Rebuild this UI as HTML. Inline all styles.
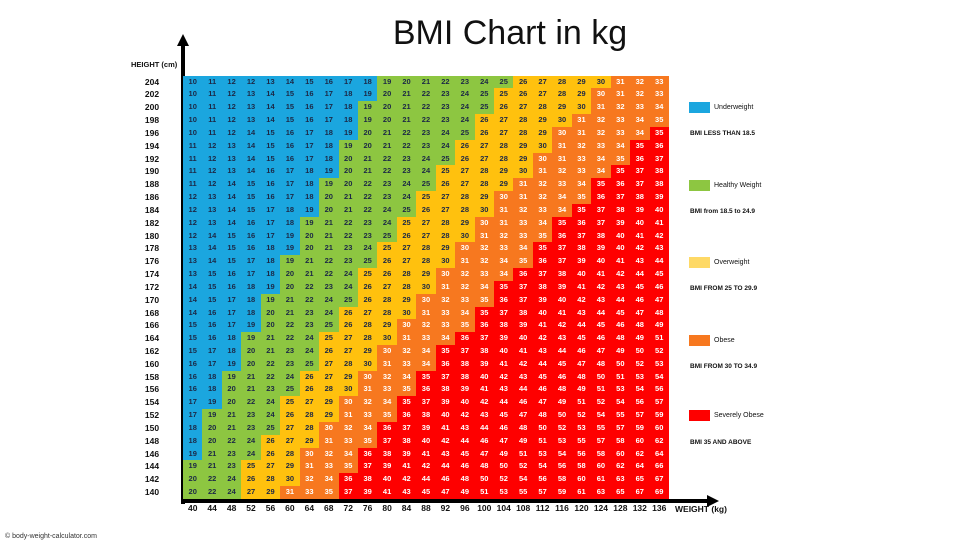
<!DOCTYPE html>
<html><head><meta charset="utf-8"><style>
*{margin:0;padding:0;box-sizing:border-box}
body{width:980px;height:552px;background:#fff;position:relative;overflow:hidden;font-family:"Liberation Sans",sans-serif}
.g{position:absolute;left:183px;top:75.6px;width:486px;display:grid;grid-template-columns:repeat(25,19.44px);grid-auto-rows:12.84px}
.g i{font-style:normal;font-weight:bold;font-size:7.5px;text-align:center;line-height:12.84px}
.b{background:#1ba6df;color:#1c2846}.gr{background:#8dc641;color:#1c2846}.y{background:#ffc10e;color:#1c2846}.o{background:#f7781f;color:#fff}.r{background:#fe0000;color:#fff}
.hl{position:absolute;left:134px;top:75.6px;width:36px;display:grid;grid-auto-rows:12.84px}
.hl span{font-weight:bold;font-size:8.5px;text-align:center;line-height:12.84px;color:#111}
.wl{position:absolute;left:183px;top:503px;width:486px;display:grid;grid-template-columns:repeat(25,19.44px)}
.wl span{font-weight:bold;font-size:8.5px;text-align:center;color:#111}
.t{position:absolute;font-size:7px;color:#111}
.lb{position:absolute;left:689px;width:21px;height:11px}
</style></head><body>
<div style="position:absolute;left:0;width:1020px;top:14px;text-align:center;font-size:34px;color:#111">BMI Chart in kg</div>
<div class="t" style="left:131px;top:60px;font-weight:bold;font-size:7.5px">HEIGHT (cm)</div>
<div style="position:absolute;left:181px;top:44px;width:4px;height:460px;background:#000"></div>
<div style="position:absolute;left:177px;top:34px;width:0;height:0;border-left:6px solid transparent;border-right:6px solid transparent;border-bottom:12px solid #000"></div>
<div style="position:absolute;left:181px;top:499px;width:528px;height:4px;background:#000"></div>
<div style="position:absolute;left:707px;top:495px;width:0;height:0;border-top:6px solid transparent;border-bottom:6px solid transparent;border-left:12px solid #000"></div>
<div class="t" style="left:675px;top:504px;font-weight:bold;font-size:8.5px">WEIGHT (kg)</div>
<div class="t" style="left:5px;top:533px;font-size:7px;color:#333">© body-weight-calculator.com</div>

<div class="lb b" style="top:102px"></div><div class="t" style="left:714px;top:104px">Underweight</div>
<div class="t" style="left:690px;top:130px;font-weight:bold;font-size:6.5px">BMI LESS THAN 18.5</div>
<div class="lb gr" style="top:180px"></div><div class="t" style="left:714px;top:182px">Healthy Weight</div>
<div class="t" style="left:690px;top:208px;font-weight:bold;font-size:6.5px">BMI from 18.5 to 24.9</div>
<div class="lb" style="top:257px;background:#fed966"></div><div class="t" style="left:714px;top:259px">Overweight</div>
<div class="t" style="left:690px;top:285px;font-weight:bold;font-size:6.5px">BMI FROM 25 TO 29.9</div>
<div class="lb o" style="top:335px"></div><div class="t" style="left:714px;top:337px">Obese</div>
<div class="t" style="left:690px;top:363px;font-weight:bold;font-size:6.5px">BMI FROM 30 TO 34.9</div>
<div class="lb r" style="top:410px"></div><div class="t" style="left:714px;top:412px">Severely Obese</div>
<div class="t" style="left:690px;top:439px;font-weight:bold;font-size:6.5px">BMI 35 AND ABOVE</div>

<div class="hl"><span>204</span><span>202</span><span>200</span><span>198</span><span>196</span><span>194</span><span>192</span><span>190</span><span>188</span><span>186</span><span>184</span><span>182</span><span>180</span><span>178</span><span>176</span><span>174</span><span>172</span><span>170</span><span>168</span><span>166</span><span>164</span><span>162</span><span>160</span><span>158</span><span>156</span><span>154</span><span>152</span><span>150</span><span>148</span><span>146</span><span>144</span><span>142</span><span>140</span></div>
<div class="wl"><span>40</span><span>44</span><span>48</span><span>52</span><span>56</span><span>60</span><span>64</span><span>68</span><span>72</span><span>76</span><span>80</span><span>84</span><span>88</span><span>92</span><span>96</span><span>100</span><span>104</span><span>108</span><span>112</span><span>116</span><span>120</span><span>124</span><span>128</span><span>132</span><span>136</span></div>

<div class="g">
<i class=b>10</i><i class=b>11</i><i class=b>12</i><i class=b>12</i><i class=b>13</i><i class=b>14</i><i class=b>15</i><i class=b>16</i><i class=b>17</i><i class=b>18</i><i class=gr>19</i><i class=gr>20</i><i class=gr>21</i><i class=gr>22</i><i class=gr>23</i><i class=gr>24</i><i class=gr>25</i><i class=y>26</i><i class=y>27</i><i class=y>28</i><i class=y>29</i><i class=y>30</i><i class=o>31</i><i class=o>32</i><i class=o>33</i>
<i class=b>10</i><i class=b>11</i><i class=b>12</i><i class=b>13</i><i class=b>14</i><i class=b>15</i><i class=b>16</i><i class=b>17</i><i class=b>18</i><i class=b>19</i><i class=gr>20</i><i class=gr>21</i><i class=gr>22</i><i class=gr>23</i><i class=gr>24</i><i class=gr>25</i><i class=y>25</i><i class=y>26</i><i class=y>27</i><i class=y>28</i><i class=y>29</i><i class=o>30</i><i class=o>31</i><i class=o>32</i><i class=o>33</i>
<i class=b>10</i><i class=b>11</i><i class=b>12</i><i class=b>13</i><i class=b>14</i><i class=b>15</i><i class=b>16</i><i class=b>17</i><i class=b>18</i><i class=gr>19</i><i class=gr>20</i><i class=gr>21</i><i class=gr>22</i><i class=gr>23</i><i class=gr>24</i><i class=gr>25</i><i class=y>26</i><i class=y>27</i><i class=y>28</i><i class=y>29</i><i class=y>30</i><i class=o>31</i><i class=o>32</i><i class=o>33</i><i class=o>34</i>
<i class=b>10</i><i class=b>11</i><i class=b>12</i><i class=b>13</i><i class=b>14</i><i class=b>15</i><i class=b>16</i><i class=b>17</i><i class=b>18</i><i class=gr>19</i><i class=gr>20</i><i class=gr>21</i><i class=gr>22</i><i class=gr>23</i><i class=gr>24</i><i class=y>26</i><i class=y>27</i><i class=y>28</i><i class=y>29</i><i class=y>30</i><i class=o>31</i><i class=o>32</i><i class=o>33</i><i class=o>34</i><i class=o>35</i>
<i class=b>10</i><i class=b>11</i><i class=b>12</i><i class=b>14</i><i class=b>15</i><i class=b>16</i><i class=b>17</i><i class=b>18</i><i class=b>19</i><i class=gr>20</i><i class=gr>21</i><i class=gr>22</i><i class=gr>23</i><i class=gr>24</i><i class=gr>25</i><i class=y>26</i><i class=y>27</i><i class=y>28</i><i class=y>29</i><i class=o>30</i><i class=o>31</i><i class=o>32</i><i class=o>33</i><i class=o>34</i><i class=r>35</i>
<i class=b>11</i><i class=b>12</i><i class=b>13</i><i class=b>14</i><i class=b>15</i><i class=b>16</i><i class=b>17</i><i class=b>18</i><i class=gr>19</i><i class=gr>20</i><i class=gr>21</i><i class=gr>22</i><i class=gr>23</i><i class=gr>24</i><i class=y>26</i><i class=y>27</i><i class=y>28</i><i class=y>29</i><i class=y>30</i><i class=o>31</i><i class=o>32</i><i class=o>33</i><i class=o>34</i><i class=r>35</i><i class=r>36</i>
<i class=b>11</i><i class=b>12</i><i class=b>13</i><i class=b>14</i><i class=b>15</i><i class=b>16</i><i class=b>17</i><i class=b>18</i><i class=gr>20</i><i class=gr>21</i><i class=gr>22</i><i class=gr>23</i><i class=gr>24</i><i class=gr>25</i><i class=y>26</i><i class=y>27</i><i class=y>28</i><i class=y>29</i><i class=o>30</i><i class=o>31</i><i class=o>33</i><i class=o>34</i><i class=o>35</i><i class=r>36</i><i class=r>37</i>
<i class=b>11</i><i class=b>12</i><i class=b>13</i><i class=b>14</i><i class=b>16</i><i class=b>17</i><i class=b>18</i><i class=b>19</i><i class=gr>20</i><i class=gr>21</i><i class=gr>22</i><i class=gr>23</i><i class=gr>24</i><i class=y>25</i><i class=y>27</i><i class=y>28</i><i class=y>29</i><i class=y>30</i><i class=o>31</i><i class=o>32</i><i class=o>33</i><i class=o>34</i><i class=r>35</i><i class=r>37</i><i class=r>38</i>
<i class=b>11</i><i class=b>12</i><i class=b>14</i><i class=b>15</i><i class=b>16</i><i class=b>17</i><i class=b>18</i><i class=gr>19</i><i class=gr>20</i><i class=gr>22</i><i class=gr>23</i><i class=gr>24</i><i class=gr>25</i><i class=y>26</i><i class=y>27</i><i class=y>28</i><i class=y>29</i><i class=o>31</i><i class=o>32</i><i class=o>33</i><i class=o>34</i><i class=r>35</i><i class=r>36</i><i class=r>37</i><i class=r>38</i>
<i class=b>12</i><i class=b>13</i><i class=b>14</i><i class=b>15</i><i class=b>16</i><i class=b>17</i><i class=b>18</i><i class=gr>20</i><i class=gr>21</i><i class=gr>22</i><i class=gr>23</i><i class=gr>24</i><i class=y>25</i><i class=y>27</i><i class=y>28</i><i class=y>29</i><i class=o>30</i><i class=o>31</i><i class=o>32</i><i class=o>34</i><i class=o>35</i><i class=r>36</i><i class=r>37</i><i class=r>38</i><i class=r>39</i>
<i class=b>12</i><i class=b>13</i><i class=b>14</i><i class=b>15</i><i class=b>17</i><i class=b>18</i><i class=b>19</i><i class=gr>20</i><i class=gr>21</i><i class=gr>22</i><i class=gr>24</i><i class=gr>25</i><i class=y>26</i><i class=y>27</i><i class=y>28</i><i class=y>30</i><i class=o>31</i><i class=o>32</i><i class=o>33</i><i class=o>34</i><i class=r>35</i><i class=r>37</i><i class=r>38</i><i class=r>39</i><i class=r>40</i>
<i class=b>12</i><i class=b>13</i><i class=b>14</i><i class=b>16</i><i class=b>17</i><i class=b>18</i><i class=gr>19</i><i class=gr>21</i><i class=gr>22</i><i class=gr>23</i><i class=gr>24</i><i class=y>25</i><i class=y>27</i><i class=y>28</i><i class=y>29</i><i class=o>30</i><i class=o>31</i><i class=o>33</i><i class=o>34</i><i class=r>35</i><i class=r>36</i><i class=r>37</i><i class=r>39</i><i class=r>40</i><i class=r>41</i>
<i class=b>12</i><i class=b>14</i><i class=b>15</i><i class=b>16</i><i class=b>17</i><i class=b>19</i><i class=gr>20</i><i class=gr>21</i><i class=gr>22</i><i class=gr>23</i><i class=gr>25</i><i class=y>26</i><i class=y>27</i><i class=y>28</i><i class=y>30</i><i class=o>31</i><i class=o>32</i><i class=o>33</i><i class=o>35</i><i class=r>36</i><i class=r>37</i><i class=r>38</i><i class=r>40</i><i class=r>41</i><i class=r>42</i>
<i class=b>13</i><i class=b>14</i><i class=b>15</i><i class=b>16</i><i class=b>18</i><i class=b>19</i><i class=gr>20</i><i class=gr>21</i><i class=gr>23</i><i class=gr>24</i><i class=y>25</i><i class=y>27</i><i class=y>28</i><i class=y>29</i><i class=o>30</i><i class=o>32</i><i class=o>33</i><i class=o>34</i><i class=r>35</i><i class=r>37</i><i class=r>38</i><i class=r>39</i><i class=r>40</i><i class=r>42</i><i class=r>43</i>
<i class=b>13</i><i class=b>14</i><i class=b>15</i><i class=b>17</i><i class=b>18</i><i class=gr>19</i><i class=gr>21</i><i class=gr>22</i><i class=gr>23</i><i class=gr>25</i><i class=y>26</i><i class=y>27</i><i class=y>28</i><i class=y>30</i><i class=o>31</i><i class=o>32</i><i class=o>34</i><i class=o>35</i><i class=r>36</i><i class=r>37</i><i class=r>39</i><i class=r>40</i><i class=r>41</i><i class=r>43</i><i class=r>44</i>
<i class=b>13</i><i class=b>15</i><i class=b>16</i><i class=b>17</i><i class=b>18</i><i class=gr>20</i><i class=gr>21</i><i class=gr>22</i><i class=gr>24</i><i class=y>25</i><i class=y>26</i><i class=y>28</i><i class=y>29</i><i class=o>30</i><i class=o>32</i><i class=o>33</i><i class=o>34</i><i class=r>36</i><i class=r>37</i><i class=r>38</i><i class=r>40</i><i class=r>41</i><i class=r>42</i><i class=r>44</i><i class=r>45</i>
<i class=b>14</i><i class=b>15</i><i class=b>16</i><i class=b>18</i><i class=b>19</i><i class=gr>20</i><i class=gr>22</i><i class=gr>23</i><i class=gr>24</i><i class=y>26</i><i class=y>27</i><i class=y>28</i><i class=y>30</i><i class=o>31</i><i class=o>32</i><i class=o>34</i><i class=r>35</i><i class=r>37</i><i class=r>38</i><i class=r>39</i><i class=r>41</i><i class=r>42</i><i class=r>43</i><i class=r>45</i><i class=r>46</i>
<i class=b>14</i><i class=b>15</i><i class=b>17</i><i class=b>18</i><i class=gr>19</i><i class=gr>21</i><i class=gr>22</i><i class=gr>24</i><i class=gr>25</i><i class=y>26</i><i class=y>28</i><i class=y>29</i><i class=o>30</i><i class=o>32</i><i class=o>33</i><i class=o>35</i><i class=r>36</i><i class=r>37</i><i class=r>39</i><i class=r>40</i><i class=r>42</i><i class=r>43</i><i class=r>44</i><i class=r>46</i><i class=r>47</i>
<i class=b>14</i><i class=b>16</i><i class=b>17</i><i class=b>18</i><i class=gr>20</i><i class=gr>21</i><i class=gr>23</i><i class=gr>24</i><i class=y>26</i><i class=y>27</i><i class=y>28</i><i class=y>30</i><i class=o>31</i><i class=o>33</i><i class=o>34</i><i class=r>35</i><i class=r>37</i><i class=r>38</i><i class=r>40</i><i class=r>41</i><i class=r>43</i><i class=r>44</i><i class=r>45</i><i class=r>47</i><i class=r>48</i>
<i class=b>15</i><i class=b>16</i><i class=b>17</i><i class=b>19</i><i class=gr>20</i><i class=gr>22</i><i class=gr>23</i><i class=gr>25</i><i class=y>26</i><i class=y>28</i><i class=y>29</i><i class=o>30</i><i class=o>32</i><i class=o>33</i><i class=o>35</i><i class=r>36</i><i class=r>38</i><i class=r>39</i><i class=r>41</i><i class=r>42</i><i class=r>44</i><i class=r>45</i><i class=r>46</i><i class=r>48</i><i class=r>49</i>
<i class=b>15</i><i class=b>16</i><i class=b>18</i><i class=gr>19</i><i class=gr>21</i><i class=gr>22</i><i class=gr>24</i><i class=y>25</i><i class=y>27</i><i class=y>28</i><i class=y>30</i><i class=o>31</i><i class=o>33</i><i class=o>34</i><i class=r>36</i><i class=r>37</i><i class=r>39</i><i class=r>40</i><i class=r>42</i><i class=r>43</i><i class=r>45</i><i class=r>46</i><i class=r>48</i><i class=r>49</i><i class=r>51</i>
<i class=b>15</i><i class=b>17</i><i class=b>18</i><i class=gr>20</i><i class=gr>21</i><i class=gr>23</i><i class=gr>24</i><i class=y>26</i><i class=y>27</i><i class=y>29</i><i class=o>30</i><i class=o>32</i><i class=o>34</i><i class=r>35</i><i class=r>37</i><i class=r>38</i><i class=r>40</i><i class=r>41</i><i class=r>43</i><i class=r>44</i><i class=r>46</i><i class=r>47</i><i class=r>49</i><i class=r>50</i><i class=r>52</i>
<i class=b>16</i><i class=b>17</i><i class=b>19</i><i class=gr>20</i><i class=gr>22</i><i class=gr>23</i><i class=gr>25</i><i class=y>27</i><i class=y>28</i><i class=y>30</i><i class=o>31</i><i class=o>33</i><i class=o>34</i><i class=r>36</i><i class=r>38</i><i class=r>39</i><i class=r>41</i><i class=r>42</i><i class=r>44</i><i class=r>45</i><i class=r>47</i><i class=r>48</i><i class=r>50</i><i class=r>52</i><i class=r>53</i>
<i class=b>16</i><i class=b>18</i><i class=gr>19</i><i class=gr>21</i><i class=gr>22</i><i class=gr>24</i><i class=y>26</i><i class=y>27</i><i class=y>29</i><i class=o>30</i><i class=o>32</i><i class=o>34</i><i class=r>35</i><i class=r>37</i><i class=r>38</i><i class=r>40</i><i class=r>42</i><i class=r>43</i><i class=r>45</i><i class=r>46</i><i class=r>48</i><i class=r>50</i><i class=r>51</i><i class=r>53</i><i class=r>54</i>
<i class=b>16</i><i class=b>18</i><i class=gr>20</i><i class=gr>21</i><i class=gr>23</i><i class=gr>25</i><i class=y>26</i><i class=y>28</i><i class=y>30</i><i class=o>31</i><i class=o>33</i><i class=o>35</i><i class=r>36</i><i class=r>38</i><i class=r>39</i><i class=r>41</i><i class=r>43</i><i class=r>44</i><i class=r>46</i><i class=r>48</i><i class=r>49</i><i class=r>51</i><i class=r>53</i><i class=r>54</i><i class=r>56</i>
<i class=b>17</i><i class=b>19</i><i class=gr>20</i><i class=gr>22</i><i class=gr>24</i><i class=y>25</i><i class=y>27</i><i class=y>29</i><i class=o>30</i><i class=o>32</i><i class=o>34</i><i class=r>35</i><i class=r>37</i><i class=r>39</i><i class=r>40</i><i class=r>42</i><i class=r>44</i><i class=r>46</i><i class=r>47</i><i class=r>49</i><i class=r>51</i><i class=r>52</i><i class=r>54</i><i class=r>56</i><i class=r>57</i>
<i class=b>17</i><i class=gr>19</i><i class=gr>21</i><i class=gr>23</i><i class=gr>24</i><i class=y>26</i><i class=y>28</i><i class=y>29</i><i class=o>31</i><i class=o>33</i><i class=o>35</i><i class=r>36</i><i class=r>38</i><i class=r>40</i><i class=r>42</i><i class=r>43</i><i class=r>45</i><i class=r>47</i><i class=r>48</i><i class=r>50</i><i class=r>52</i><i class=r>54</i><i class=r>55</i><i class=r>57</i><i class=r>59</i>
<i class=b>18</i><i class=gr>20</i><i class=gr>21</i><i class=gr>23</i><i class=gr>25</i><i class=y>27</i><i class=y>28</i><i class=o>30</i><i class=o>32</i><i class=o>34</i><i class=r>36</i><i class=r>37</i><i class=r>39</i><i class=r>41</i><i class=r>43</i><i class=r>44</i><i class=r>46</i><i class=r>48</i><i class=r>50</i><i class=r>52</i><i class=r>53</i><i class=r>55</i><i class=r>57</i><i class=r>59</i><i class=r>60</i>
<i class=b>18</i><i class=gr>20</i><i class=gr>22</i><i class=gr>24</i><i class=y>26</i><i class=y>27</i><i class=y>29</i><i class=o>31</i><i class=o>33</i><i class=o>35</i><i class=r>37</i><i class=r>38</i><i class=r>40</i><i class=r>42</i><i class=r>44</i><i class=r>46</i><i class=r>47</i><i class=r>49</i><i class=r>51</i><i class=r>53</i><i class=r>55</i><i class=r>57</i><i class=r>58</i><i class=r>60</i><i class=r>62</i>
<i class=b>19</i><i class=gr>21</i><i class=gr>23</i><i class=gr>24</i><i class=y>26</i><i class=y>28</i><i class=o>30</i><i class=o>32</i><i class=o>34</i><i class=r>36</i><i class=r>38</i><i class=r>39</i><i class=r>41</i><i class=r>43</i><i class=r>45</i><i class=r>47</i><i class=r>49</i><i class=r>51</i><i class=r>53</i><i class=r>54</i><i class=r>56</i><i class=r>58</i><i class=r>60</i><i class=r>62</i><i class=r>64</i>
<i class=gr>19</i><i class=gr>21</i><i class=gr>23</i><i class=y>25</i><i class=y>27</i><i class=y>29</i><i class=o>31</i><i class=o>33</i><i class=o>35</i><i class=r>37</i><i class=r>39</i><i class=r>41</i><i class=r>42</i><i class=r>44</i><i class=r>46</i><i class=r>48</i><i class=r>50</i><i class=r>52</i><i class=r>54</i><i class=r>56</i><i class=r>58</i><i class=r>60</i><i class=r>62</i><i class=r>64</i><i class=r>66</i>
<i class=gr>20</i><i class=gr>22</i><i class=gr>24</i><i class=y>26</i><i class=y>28</i><i class=y>30</i><i class=o>32</i><i class=o>34</i><i class=r>36</i><i class=r>38</i><i class=r>40</i><i class=r>42</i><i class=r>44</i><i class=r>46</i><i class=r>48</i><i class=r>50</i><i class=r>52</i><i class=r>54</i><i class=r>56</i><i class=r>58</i><i class=r>60</i><i class=r>61</i><i class=r>63</i><i class=r>65</i><i class=r>67</i>
<i class=gr>20</i><i class=gr>22</i><i class=gr>24</i><i class=y>27</i><i class=y>29</i><i class=o>31</i><i class=o>33</i><i class=o>35</i><i class=r>37</i><i class=r>39</i><i class=r>41</i><i class=r>43</i><i class=r>45</i><i class=r>47</i><i class=r>49</i><i class=r>51</i><i class=r>53</i><i class=r>55</i><i class=r>57</i><i class=r>59</i><i class=r>61</i><i class=r>63</i><i class=r>65</i><i class=r>67</i><i class=r>69</i>
</div>
</body></html>
